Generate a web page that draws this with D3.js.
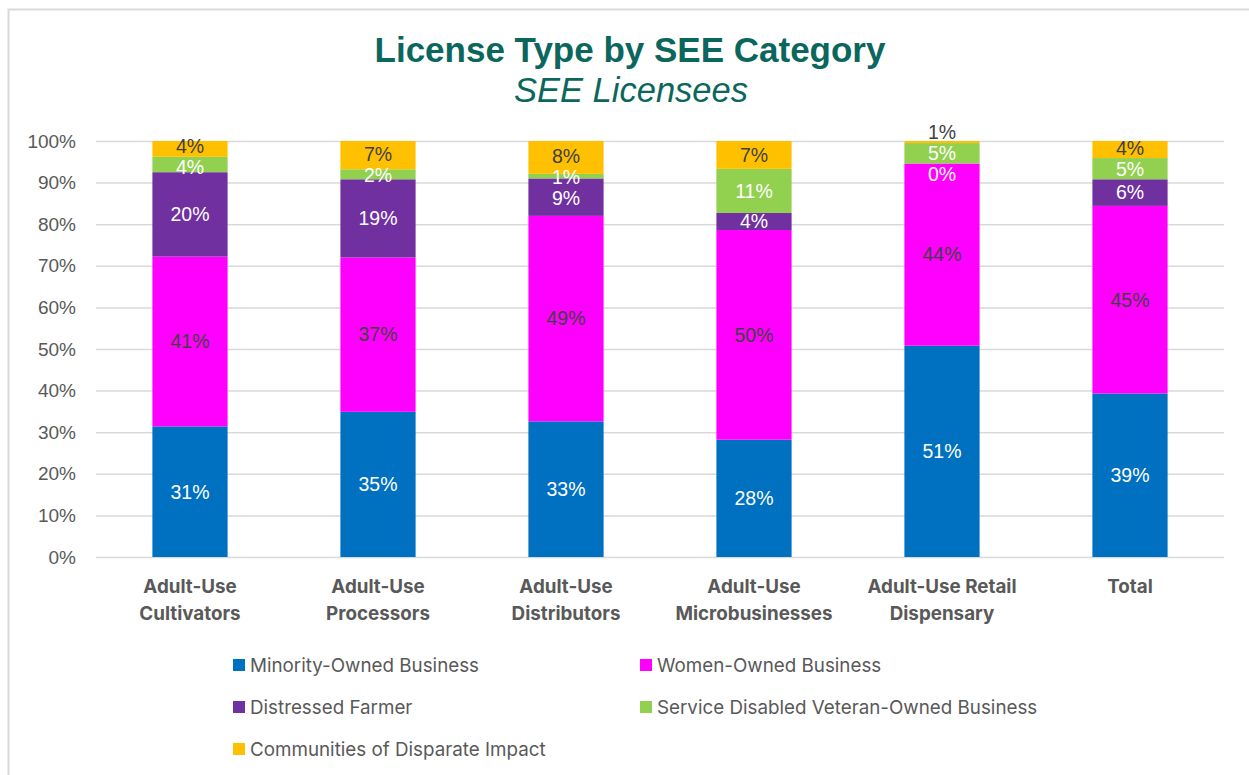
<!DOCTYPE html>
<html>
<head>
<meta charset="utf-8">
<script src="https://cdn.jsdelivr.net/npm/d3@7"></script>
<style>
  body { margin: 0; background: #fff; }
  svg { display: block; }
</style>
</head>
<body>
<div id="my_chart"></div>
<script>
var categories = ["Adult-Use\nCultivators", "Adult-Use\nProcessors", "Adult-Use\nDistributors", "Adult-Use\nMicrobusinesses", "Adult-Use Retail\nDispensary", "Total"];
var series_names = ["Minority-Owned Business", "Women-Owned Business", "Distressed Farmer", "Service Disabled Veteran-Owned Business", "Communities of Disparate Impact"];
var series_colors = ["#0070C0", "#FF00FF", "#7030A0", "#92D050", "#FFC000"];
var label_colors = ["#ffffff", "#404040", "#ffffff", "#ffffff", "#404040"];

// percent share of each SEE category, per license type
var minority = [31.4, 34.9, 32.6, 28.2, 50.8, 39.3];
var women    = [40.8, 37.1, 49.4, 50.4, 43.8, 45.1];
var farmer   = [20.3, 18.8,  9.0,  4.1,  0.0,  6.4];
var veteran  = [ 3.7,  2.4,  1.1, 10.6,  4.9,  5.1];
var impact   = [ 3.8,  6.8,  7.9,  6.7,  0.5,  4.1];
var y_ticks = [0, 10, 20, 30, 40, 50, 60, 70, 80, 90, 100];

var all_values = [minority, women, farmer, veteran, impact];

var rows = categories.map(function(c, i) {
  var r = {cat: c};
  series_names.forEach(function(s, j) { r[s] = all_values[j][i]; });
  return r;
});

var W = 1249, H = 775;
var margin = {top: 141, left: 96, right: 25, bottom: 218};
var width = W - margin.left - margin.right,
    height = H - margin.top - margin.bottom;

var svg = d3.select("#my_chart")
  .append("svg")
  .attr("width", W)
  .attr("height", H)
  .style("font-family", "'Liberation Sans', Arial, sans-serif");

// frame
svg.append("path")
  .attr("d", "M8.5," + H + " V9.5 H" + W)
  .attr("fill", "none")
  .attr("stroke", "#d9d9d9")
  .attr("stroke-width", 2);

// titles
svg.append("text")
  .attr("x", 630)
  .attr("y", 62)
  .attr("text-anchor", "middle")
  .attr("fill", "#0B675E")
  .style("font-size", "35px")
  .style("font-weight", "bold")
  .text("License Type by SEE Category");

svg.append("text")
  .attr("x", 631)
  .attr("y", 102)
  .attr("text-anchor", "middle")
  .attr("fill", "#0B675E")
  .style("font-size", "34.5px")
  .style("font-style", "italic")
  .text("SEE Licensees");

var g = svg.append("g")
  .attr("transform", "translate(" + margin.left + "," + margin.top + ")");

// scales
var x = d3.scaleBand()
  .domain(categories)
  .range([0, width])
  .paddingInner(0.6)
  .paddingOuter(0.3);

var y = d3.scaleLinear()
  .domain([0, 100])
  .range([height, 0]);

// Y axis + gridlines
var yAxis = g.append("g")
  .call(d3.axisLeft(y).tickValues(y_ticks).tickSize(-width).tickPadding(20)
    .tickFormat(function(d) { return d + "%"; }));
yAxis.select(".domain").remove();
yAxis.selectAll(".tick line")
  .attr("stroke", "#d9d9d9")
  .attr("stroke-width", 1.5);
yAxis.selectAll(".tick text")
  .attr("fill", "#595959")
  .style("font-size", "19px")
  .style("font-family", "'Liberation Sans', Arial, sans-serif");

// X axis labels
var xAxis = g.append("g")
  .attr("transform", "translate(0," + height + ")")
  .call(d3.axisBottom(x).tickSize(0).tickFormat(""));
xAxis.select(".domain").remove();
xAxis.selectAll(".tick").each(function(d) {
  var t = d3.select(this).append("text")
    .attr("text-anchor", "middle")
    .attr("fill", "#595959")
    .style("font-family", "Inter, 'Open Sans', sans-serif")
    .style("font-weight", "bold")
    .style("font-size", "18.8px");
  d.split("\n").forEach(function(line, k) {
    t.append("tspan").attr("x", 0).attr("y", 36 + k * 27).text(line);
  });
});

// stacked bars
var stacked = d3.stack().keys(series_names)(rows);

var layers = g.selectAll(".layer")
  .data(stacked).enter()
  .append("g")
  .attr("class", "layer")
  .attr("fill", function(d, i) { return series_colors[i]; });

layers.selectAll("rect")
  .data(function(d) { return d; })
  .enter().append("rect")
  .attr("x", function(d) { return x(d.data.cat); })
  .attr("y", function(d) { return y(d[1]); })
  .attr("width", x.bandwidth())
  .attr("height", function(d) { return y(d[0]) - y(d[1]); });

// data labels, pushed apart where segments are thin
var gap = 21;
categories.forEach(function(c, ci) {
  var labs = stacked.map(function(s, si) {
    var seg = s[ci];
    return {y: (y(seg[0]) + y(seg[1])) / 2, v: seg[1] - seg[0], si: si};
  });
  labs.sort(function(a, b) { return a.y - b.y; });
  for (var it = 0; it < 60; it++) {
    for (var k = 0; k < labs.length - 1; k++) {
      var d = labs[k + 1].y - labs[k].y;
      if (d < gap) {
        var sh = (gap - d) / 2;
        labs[k].y -= sh;
        labs[k + 1].y += sh;
      }
    }
  }
  labs.forEach(function(l) {
    g.append("text")
      .attr("x", x(c) + x.bandwidth() / 2)
      .attr("y", l.y)
      .attr("dy", "0.35em")
      .attr("text-anchor", "middle")
      .attr("fill", label_colors[l.si])
      .style("font-size", "19.5px")
      .text(Math.round(l.v) + "%");
  });
});

// legend
var legend = svg.append("g")
  .style("font-family", "Inter, 'Open Sans', sans-serif")
  .style("font-size", "18.8px");

series_names.forEach(function(s, i) {
  var lx = (i % 2 === 0) ? 233 : 640;
  var ly = 672 + Math.floor(i / 2) * 42;
  legend.append("rect")
    .attr("x", lx)
    .attr("y", ly - 13)
    .attr("width", 12)
    .attr("height", 12)
    .attr("fill", series_colors[i]);
  legend.append("text")
    .attr("x", lx + 17)
    .attr("y", ly)
    .attr("fill", "#595959")
    .text(s);
});
</script>
</body>
</html>
